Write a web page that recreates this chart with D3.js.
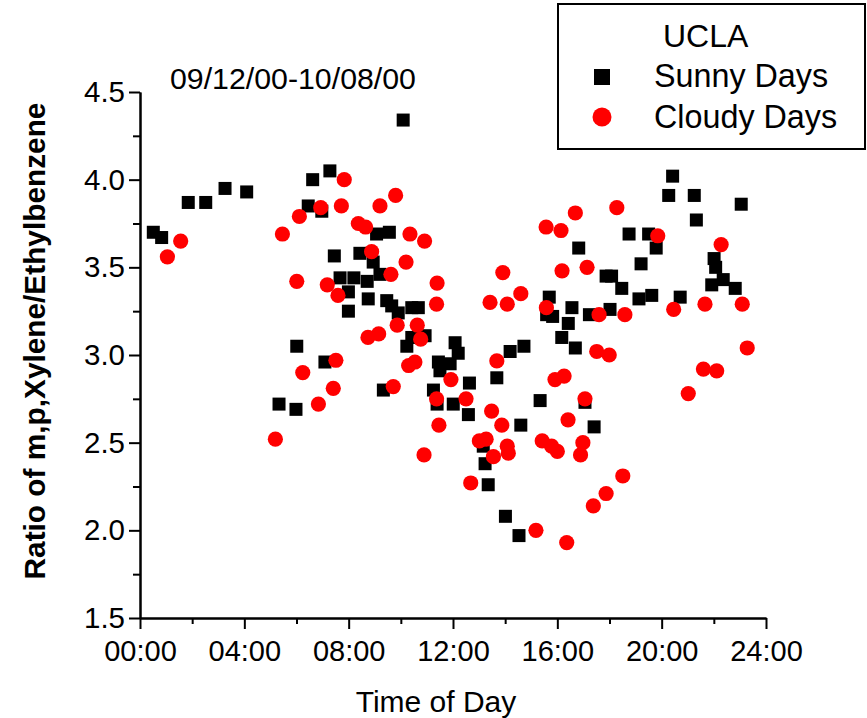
<!DOCTYPE html>
<html>
<head>
<meta charset="utf-8">
<script src="https://cdn.jsdelivr.net/npm/d3@7"></script>
<style>
  html, body { margin: 0; padding: 0; background: #fff; }
  svg { display: block; }
  text { font-family: "Liberation Sans", Arial, Helvetica, sans-serif; fill: #000; }
</style>
</head>
<body>
<svg id="chart" width="867" height="718"></svg>
<script>
// Hour of day (0-24) and m,p-xylene / ethylbenzene ratio
const sunnyDays = [
  [0.51,3.70],[0.83,3.67],[1.85,3.87],[2.52,3.87],[3.26,3.95],[4.09,3.93],
  [10.09,4.34],[7.28,4.05],[6.62,4.00],[6.45,3.85],[6.97,3.82],[9.07,3.69],
  [9.56,3.70],[7.45,3.565],[8.43,3.58],[8.94,3.53],[7.67,3.44],[8.20,3.44],
  [8.71,3.42],[9.20,3.46],[7.99,3.36],[8.75,3.32],[9.46,3.31],[9.65,3.28],
  [9.90,3.24],[10.42,3.27],[10.67,3.27],[7.99,3.25],[6.01,3.05],[10.23,3.05],
  [10.42,3.10],[10.93,3.11],[7.09,2.96],[16.82,3.61],[15.69,3.33],[15.59,3.23],
  [15.82,3.22],[16.56,3.27],[17.23,3.23],[16.42,3.18],[16.17,3.10],[16.69,3.04],
  [14.19,3.02],[14.72,3.05],[12.08,3.07],[12.20,3.01],[20.42,4.02],[20.27,3.91],
  [21.25,3.91],[23.05,3.86],[21.33,3.77],[18.75,3.69],[19.50,3.69],[19.79,3.61],
  [22.01,3.55],[22.07,3.50],[19.21,3.52],[17.87,3.45],[18.08,3.45],[18.47,3.38],
  [22.36,3.43],[21.92,3.40],[22.82,3.38],[19.13,3.32],[19.62,3.34],[20.71,3.33],
  [18.02,3.26],[5.33,2.72],[5.98,2.69],[9.33,2.80],[11.44,2.96],[11.50,2.91],
  [11.89,2.95],[11.25,2.80],[11.39,2.72],[12.01,2.72],[12.63,2.84],[13.68,2.87],
  [12.59,2.66],[15.34,2.74],[14.60,2.60],[13.16,2.48],[13.23,2.38],[13.35,2.26],
  [14.01,2.08],[14.53,1.97],[17.06,2.73],[17.41,2.59]
];

const cloudyDays = [
  [1.56,3.65],[1.05,3.56],[5.46,3.69],[6.01,3.42],[7.83,4.00],[9.80,3.91],
  [6.93,3.84],[7.72,3.85],[9.20,3.85],[6.11,3.79],[8.37,3.75],[8.65,3.73],
  [10.35,3.69],[10.91,3.65],[8.88,3.59],[10.20,3.53],[9.62,3.46],[11.39,3.41],
  [7.18,3.40],[7.59,3.34],[11.37,3.29],[9.86,3.17],[10.63,3.17],[10.76,3.09],
  [8.74,3.10],[9.15,3.12],[7.51,2.97],[10.30,2.94],[10.54,2.96],[16.69,3.81],
  [15.57,3.73],[16.14,3.71],[16.18,3.48],[17.14,3.50],[13.91,3.47],[13.42,3.30],
  [14.08,3.29],[14.60,3.35],[15.58,3.27],[13.68,2.966],[18.28,3.84],[19.85,3.68],
  [22.28,3.63],[17.60,3.23],[18.59,3.23],[20.46,3.26],[21.66,3.29],[23.09,3.29],
  [17.51,3.02],[17.99,3.00],[23.28,3.04],[5.19,2.52],[6.24,2.90],[7.41,2.81],
  [6.84,2.72],[9.71,2.82],[11.37,2.75],[11.46,2.60],[10.89,2.43],[11.92,2.86],
  [12.50,2.75],[13.48,2.68],[13.87,2.60],[13.01,2.51],[13.27,2.52],[13.55,2.42],
  [14.08,2.48],[14.12,2.44],[12.68,2.27],[15.91,2.86],[16.26,2.88],[16.41,2.63],
  [15.42,2.51],[15.78,2.48],[16.00,2.45],[16.98,2.50],[16.89,2.43],[17.06,2.75],
  [15.18,2.00],[16.36,1.93],[17.38,2.14],[17.87,2.21],[18.51,2.31],[21.60,2.92],
  [22.11,2.91],[21.02,2.78]
];

const xMajorTicks = [0, 4, 8, 12, 16, 20, 24];
const xMinorTicks = [2, 6, 10, 14, 18, 22];
const yMajorTicks = [1.5, 2.0, 2.5, 3.0, 3.5, 4.0, 4.5];
const yMinorTicks = [1.75, 2.25, 2.75, 3.25, 3.75, 4.25];

const legendTitle = "UCLA";
const seriesNames = ["Sunny Days", "Cloudy Days"];
const periodLabel = "09/12/00-10/08/00";
const xTitle = "Time of Day";
const yTitle = "Ratio of m,p,Xylene/Ethylbenzene";

const svg = d3.select("#chart");

const x = d3.scaleLinear().domain([0, 24]).range([140, 766]);
const y = d3.scaleLinear().domain([1.5, 4.5]).range([618, 92]);

const fmtHour = h => String(h).padStart(2, "0") + ":00";

function styleAxis(g, fontSize) {
  g.selectAll("path.domain").attr("stroke", "#000").attr("stroke-width", 2);
  g.selectAll(".tick line").attr("stroke", "#000").attr("stroke-width", 2);
  g.selectAll(".tick text")
    .attr("fill", "#000")
    .style("font-family", '"Liberation Sans", Arial, sans-serif')
    .style("font-size", fontSize + "px");
}

// x axis: minor ticks first, then major ticks with labels
svg.append("g")
  .attr("transform", `translate(0,${y(1.5)})`)
  .call(d3.axisBottom(x).tickValues(xMinorTicks).tickSize(6).tickSizeOuter(0).tickFormat(""))
  .call(g => styleAxis(g, 29));

svg.append("g")
  .attr("transform", `translate(0,${y(1.5)})`)
  .call(d3.axisBottom(x).tickValues(xMajorTicks).tickSize(11).tickSizeOuter(0)
        .tickPadding(11).tickFormat(fmtHour))
  .call(g => styleAxis(g, 29));

// y axis
svg.append("g")
  .attr("transform", `translate(${x(0)},0)`)
  .call(d3.axisLeft(y).tickValues(yMinorTicks).tickSize(7).tickSizeOuter(0).tickFormat(""))
  .call(g => styleAxis(g, 29));

svg.append("g")
  .attr("transform", `translate(${x(0)},0)`)
  .call(d3.axisLeft(y).tickValues(yMajorTicks).tickSize(11).tickSizeOuter(0)
        .tickPadding(4).tickFormat(d3.format(".1f")))
  .call(g => styleAxis(g, 29.5));

// markers: squares for sunny days, red dots drawn over them for cloudy days
const sq = 13;
svg.append("g").selectAll("rect")
  .data(sunnyDays)
  .join("rect")
  .attr("x", d => x(d[0]) - sq / 2)
  .attr("y", d => y(d[1]) - sq / 2)
  .attr("width", sq)
  .attr("height", sq)
  .attr("fill", "#000");

svg.append("g").selectAll("circle")
  .data(cloudyDays)
  .join("circle")
  .attr("cx", d => x(d[0]))
  .attr("cy", d => y(d[1]))
  .attr("r", 7.6)
  .attr("fill", "#ff0000");

// period annotation
svg.append("text")
  .attr("x", 170).attr("y", 89)
  .style("font-size", "30.3px")
  .text(periodLabel);

// axis titles
svg.append("text")
  .attr("x", 436).attr("y", 712)
  .attr("text-anchor", "middle")
  .style("font-size", "30px")
  .text(xTitle);

svg.append("text")
  .attr("transform", "translate(45,341) rotate(-90)")
  .attr("text-anchor", "middle")
  .style("font-size", "29.8px")
  .style("font-weight", "bold")
  .text(yTitle);

// legend
const legend = svg.append("g");
legend.append("rect")
  .attr("x", 558).attr("y", 4).attr("width", 307).attr("height", 145)
  .attr("fill", "#fff").attr("stroke", "#000").attr("stroke-width", 2);
legend.append("text")
  .attr("x", 663).attr("y", 47)
  .style("font-size", "32px")
  .text(legendTitle);
legend.append("rect")
  .attr("x", 594).attr("y", 69).attr("width", 16).attr("height", 16)
  .attr("fill", "#000");
legend.append("text")
  .attr("x", 654).attr("y", 87)
  .style("font-size", "32.3px")
  .text(seriesNames[0]);
legend.append("circle")
  .attr("cx", 602).attr("cy", 117).attr("r", 9.5)
  .attr("fill", "#ff0000");
legend.append("text")
  .attr("x", 654).attr("y", 128)
  .style("font-size", "32.3px")
  .text(seriesNames[1]);
</script>
</body>
</html>
